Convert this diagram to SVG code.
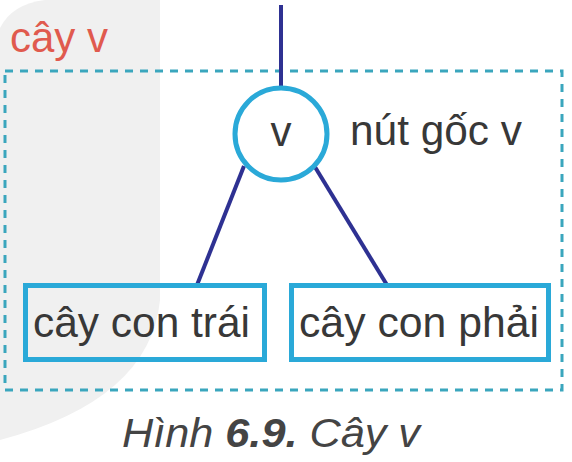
<svg xmlns="http://www.w3.org/2000/svg" width="572" height="462" viewBox="0 0 572 462">
<style>
.t{font-family:"Liberation Sans",Arial,sans-serif;fill:#383838;font-size:42px}
.box{fill:none;stroke:#2aa9d8;stroke-width:5}
.edge{stroke:#2e3192;stroke-width:4;fill:none}
</style>
<rect width="572" height="462" fill="#fff"/>
<path d="M0,28 Q12,4 45,0 L160,0 L160,300 Q150,400 0,440 Z" fill="#f0f0f0"/>
<text class="t" x="10" y="52" textLength="98" lengthAdjust="spacingAndGlyphs" style="fill:#e05a4e">cây v</text>
<rect x="5" y="71" width="557" height="319" fill="none" stroke="#3aa6bd" stroke-width="3" stroke-dasharray="8,7"/>
<g id="connectors">
<line class="edge" x1="281" y1="5" x2="281" y2="88"/>
<line class="edge" x1="244" y1="166" x2="197" y2="285"/>
<line class="edge" x1="315" y1="167" x2="387" y2="285"/>
</g>
<g id="root">
<circle cx="281" cy="134" r="46" fill="#fff" stroke="#2aa9d8" stroke-width="5"/>
<text class="t" x="281" y="146" text-anchor="middle">v</text>
<text class="t" x="350" y="145" textLength="172" lengthAdjust="spacingAndGlyphs">nút gốc v</text>
</g>
<g id="left">
<rect class="box" x="25.5" y="285.5" width="239" height="74"/>
<text class="t" x="33" y="337" textLength="217" lengthAdjust="spacingAndGlyphs">cây con trái</text>
</g>
<g id="right">
<rect class="box" x="291.5" y="285.5" width="257" height="74"/>
<text class="t" x="299" y="337" textLength="240" lengthAdjust="spacingAndGlyphs">cây con phải</text>
</g>
<text class="t" x="122" y="447" font-style="italic" textLength="298" lengthAdjust="spacingAndGlyphs" style="fill:#444;font-size:41px">Hình <tspan font-weight="bold">6.9.</tspan> Cây v</text>
</svg>
